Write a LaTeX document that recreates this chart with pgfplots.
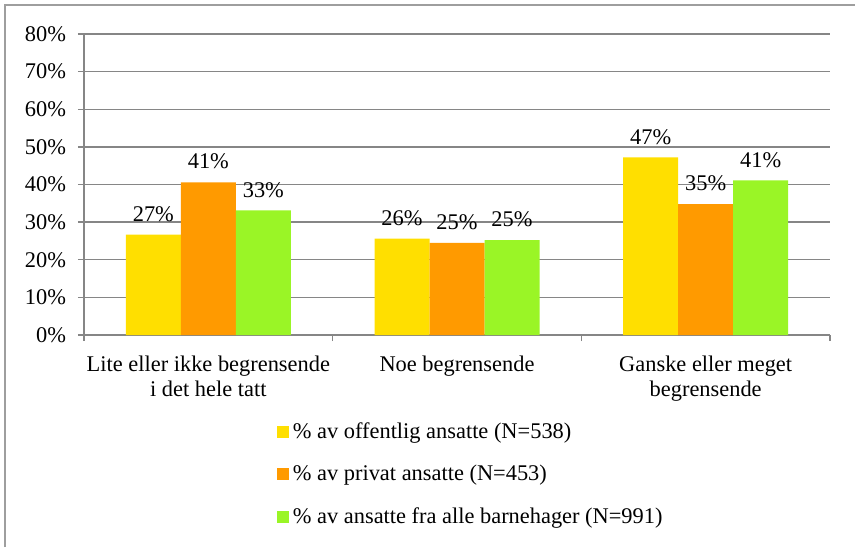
\documentclass[border=0pt]{standalone}
\usepackage{fontspec}
\setmainfont{Liberation Serif}
\usepackage{pgfplots}
\pgfplotsset{compat=1.18}

\definecolor{cYellow}{HTML}{FFDF00}
\definecolor{cOrange}{HTML}{FF9A00}
\definecolor{cGreen}{HTML}{9AF526}
\definecolor{cGrid}{HTML}{868686}

\begin{document}
\begin{tikzpicture}[font=\fontsize{11.2}{12.5}\selectfont]
  \useasboundingbox (0,0) rectangle (427.5pt,273.5pt);
  \draw[cGrid!80, line width=0.6pt] (2.5pt,0pt) -- (2.5pt,271pt) -- (427.5pt,271pt);
  \begin{axis}[
    at={(42pt,106pt)}, anchor=south west,
    scale only axis, width=373pt, height=150.5pt,
    ybar=0pt, bar width=27.5pt,
    xmin=-0.5, xmax=2.5, ymin=0, ymax=80,
    axis x line*=bottom, axis y line*=left,
    axis line style={cGrid, line width=0.7pt},
    xtick={0,1,2},
    xticklabels={{Lite eller ikke begrensende\\i det hele tatt},{Noe begrensende},{Ganske eller meget\\begrensende}},
    xticklabel style={align=center, yshift=-4pt},
    major x tick style={draw=none},
    minor xtick={-0.5,0.5,1.5,2.5},
    minor x tick style={cGrid, line width=0.7pt},
    minor tick length=3pt,
    ytick={0,10,...,80},
    yticklabel={\pgfmathprintnumber{\tick}\%},
    yticklabel style={xshift=-2.5pt},
    /pgf/number format/assume math mode=true,
    major tick length=3pt, tick align=outside,
    ytick style={cGrid, line width=0.7pt},
    ymajorgrids, grid style={cGrid, line width=0.7pt},
    nodes near coords={\pgfmathprintnumber[fixed,precision=0]{\pgfplotspointmeta}\%},
    nodes near coords style={font=\fontsize{11.2}{12}\selectfont, yshift=3pt, text=black},
    legend style={at={(0.25,-0.262)}, anchor=north west, draw=none,
      row sep=8pt, font=\fontsize{11.2}{12}\selectfont},
    legend cell align=left,
    legend image code/.code={\fill[#1] (0pt,-3pt) rectangle (6pt,3pt);},
  ]
  \addplot[fill=cYellow, draw=none] coordinates {(0,26.7) (1,25.6) (2,47.2)};
  \addplot[fill=cOrange, draw=none] coordinates {(0,40.6) (1,24.5) (2,34.8)};
  \addplot[fill=cGreen, draw=none] coordinates {(0,33.1) (1,25.2) (2,41.1)};
  \legend{\% av offentlig ansatte (N=538), \% av privat ansatte (N=453), \% av ansatte fra alle barnehager (N=991)}
  \end{axis}
\end{tikzpicture}
\end{document}
